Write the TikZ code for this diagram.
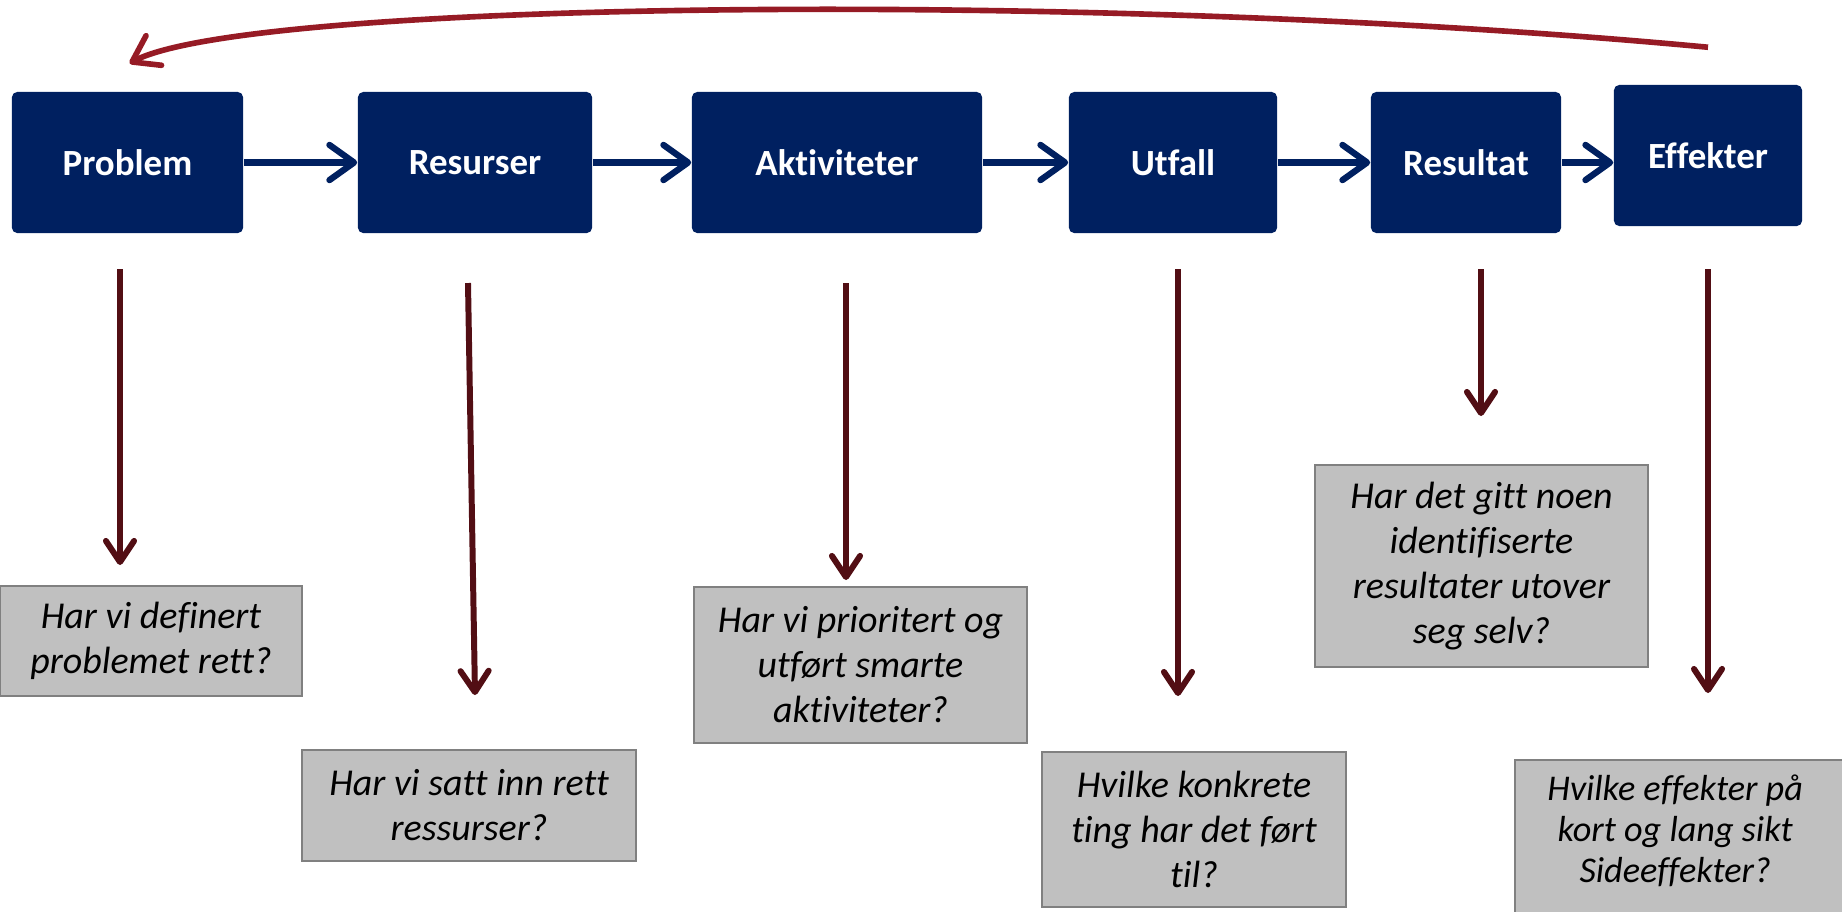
\documentclass[tikz,border=0pt]{standalone}
\usepackage{fontspec}
\setmainfont{Carlito}[Ligatures=NoCommon]
\usetikzlibrary{arrows.meta}
\definecolor{navy}{RGB}{0,32,96}
\definecolor{loopred}{RGB}{150,27,37}
\definecolor{darkred}{RGB}{82,14,20}
\definecolor{qgray}{RGB}{192,192,192}
\definecolor{qborder}{RGB}{128,128,128}
\begin{document}
\begin{tikzpicture}
        [x=0.01cm,y=-0.01cm,
         stage/.style={fill=navy,rounded corners=1.5pt,text=white,inner sep=0pt,
                       minimum height=1.41cm,font=\fontsize{10.5}{12}\selectfont\bfseries},
         question/.style={fill=qgray,draw=qborder,line width=0.6pt,inner sep=0pt,align=center,
                          font=\fontsize{10.8}{12.8}\selectfont\itshape},
         flow/.style={navy,line width=1.8pt,-{Straight Barb[length=7pt,width=10pt,round]}},
         down/.style={darkred,line width=1.7pt,-{Straight Barb[length=6pt,width=8pt,round]}},
         feedback/.style={loopred,line width=1.6pt,-{Straight Barb[length=7pt,width=9.5pt,round]}}]
        \useasboundingbox (0,0) rectangle (1842,911);
        \clip (0,0) rectangle (1842,911);

        \node[stage,minimum width=2.31cm] (prob) at (127.5,162.5) {Problem};
        \node[stage,minimum width=2.34cm] (res) at (475,162.5) {Resurser};
        \node[stage,minimum width=2.90cm] (akt) at (837,162.5) {Aktiviteter};
        \node[stage,minimum width=2.08cm] (utf) at (1173,162.5) {Utfall};
        \node[stage,minimum width=1.90cm] (rsl) at (1466,162.5) {Resultat};
        \node[stage,minimum width=1.88cm] (eff) at (1708,155.5) {Effekter};

        \foreach \a/\b in {prob/res,res/akt,akt/utf,utf/rsl}
        {\draw[flow] (\a) -- (\b);}
        \draw[flow] (rsl.east) -- (rsl.east -| eff.west);

        \draw[feedback] ([yshift=0.37cm]eff.north) .. controls (1100,-10) and (250,0) .. ([xshift=0.02cm,yshift=0.28cm]prob.north);

        \node[question,minimum width=3.02cm,minimum height=1.10cm] (q1) at (151,641) {Har vi definert\\problemet rett?};
        \node[question,minimum width=3.33cm,minimum height=1.11cm] (q2) at (469,805.5) {Har vi satt inn rett\\ressurser?};
        \node[question,minimum width=3.33cm,minimum height=1.56cm] (q3) at (860.5,665) {Har vi prioritert og\\utført smarte\\aktiviteter?};
        \node[question,minimum width=3.04cm,minimum height=1.55cm] (q4) at (1194,829.5) {Hvilke konkrete\\ting har det ført\\til?};
        \node[question,minimum width=3.33cm,minimum height=2.02cm] (q5) at (1481.5,566) {Har det gitt noen\\identifiserte\\resultater utover\\seg selv?};
        \node[question,minimum height=1.70cm,anchor=north west,font=\fontsize{10.3}{11.7}\selectfont\itshape] (q6) at (1514,759)
          {\raisebox{0.14cm}[\height][\depth]{\makebox[3.4cm][l]{\hspace*{0.13cm}\parbox{2.94cm}{\centering Hvilke effekter på\\kort og lang sikt\\Sideeffekter?}}}};

        \foreach \xa/\ya/\xb/\yb [count=\i] in {120/269/120/565,468/283/475/695,846/283/846/580,
                                                1178/269/1178/696,1481/269/1481/416,1708/269/1708/693}
        {\coordinate (top\i) at (\xa,\ya);
         \coordinate (tip\i) at (\xb,\yb);
         \draw[down] (top\i) -- (tip\i);}
      \end{tikzpicture}
\end{document}
